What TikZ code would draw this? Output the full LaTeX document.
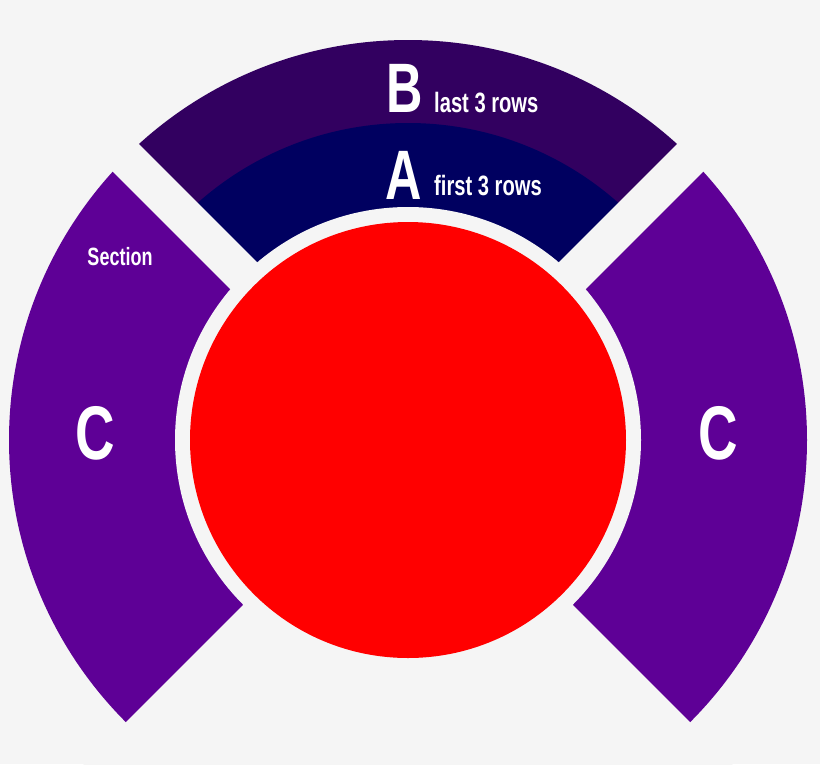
\documentclass[tikz,border=0pt]{standalone}
\usepackage{fontspec}
\newfontfamily\cond[FakeStretch=0.72]{Liberation Sans}
\definecolor{bg}{HTML}{F5F5F5}
\definecolor{cpurple}{HTML}{5E0096}
\definecolor{bpurple}{HTML}{320060}
\definecolor{anavy}{HTML}{000060}
\definecolor{redc}{HTML}{FF0000}
\begin{document}
\begin{tikzpicture}[x=1pt,y=-1pt,
  lbl/.style={text=white,font=\cond\bfseries,inner sep=0pt}]
\useasboundingbox (0,0) rectangle (820,764);
\clip (0,0) rectangle (820,764);
\fill[bg] (0,0) rectangle (820,764);
\coordinate (c) at (408,440);
\fill[cpurple] (c) circle (399);
\begin{scope}
\clip (c) -- ++(-600,-600) -- ++(1200,0) -- cycle;
\fill[bpurple] (c) circle (400);
\fill[anavy] (c) circle (317);
\end{scope}
\fill[bg] (c) circle (233);
\draw[bg,line width=38pt] (c) -- ++(-450,-450);
\draw[bg,line width=38pt] (c) -- ++(450,-450);
\fill[bg] (c) -- ++(-600,600) -- ++(1200,0) -- cycle;
\fill[redc] (c) circle (218);
\node[lbl,font=\cond\bfseries\fontsize{70}{70}\selectfont] (b) at (405,88) {B};
\node[lbl,font=\cond\bfseries\fontsize{28}{28}\selectfont,anchor=west] (bt) at (434,103) {last 3 rows};
\node[lbl,font=\cond\bfseries\fontsize{70}{70}\selectfont] (a) at (404,175) {A};
\node[lbl,font=\cond\bfseries\fontsize{28}{28}\selectfont,anchor=west] (at) at (434,186) {first 3 rows};
\node[lbl,font=\cond\bfseries\fontsize{25}{25}\selectfont] (s) at (120,257) {Section};
\node[lbl,font=\cond\bfseries\fontsize{76}{76}\selectfont] (cl) at (95,433) {C};
\node[lbl,font=\cond\bfseries\fontsize{76}{76}\selectfont] (cr) at (718,433) {C};
\end{tikzpicture}
\end{document}
